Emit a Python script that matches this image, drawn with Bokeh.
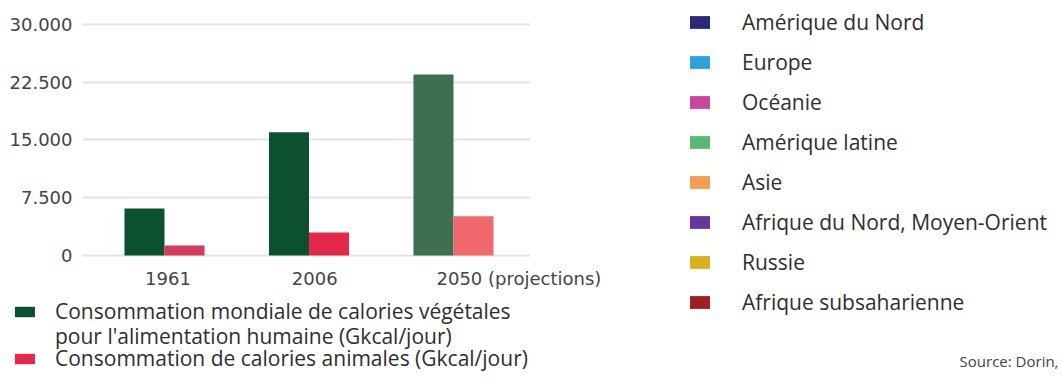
from bokeh.plotting import figure
from bokeh.layouts import row, column
from bokeh.models import (ColumnDataSource, Range1d, Legend, LegendItem,
                          Label, FixedTicker)
from bokeh.transform import dodge
from bokeh.embed import file_html
from bokeh.resources import INLINE

# ---- data ----
years = ["1961", "2006", "2050 (projections)"]
vegetal = [6100, 16000, 23500]   # Gkcal/jour
animal = [1300, 3000, 5100]      # Gkcal/jour
y_ticks = [0, 7500, 15000, 22500, 30000]
y_tick_labels = ["0", "7.500", "15.000", "22.500", "30.000"]
regions = ["Amérique du Nord", "Europe", "Océanie", "Amérique latine", "Asie",
           "Afrique du Nord, Moyen-Orient", "Russie", "Afrique subsaharienne"]
series_labels = ["Consommation mondiale de calories végétales",
                 "pour l'alimentation humaine (Gkcal/jour)",
                 "Consommation de calories animales (Gkcal/jour)"]
source_text = "Source: Dorin,"

# ---- styles ----
veg_colors = ["#0b5130", "#0b5130", "#3e6f51"]
ani_colors = ["#d8395e", "#e3284b", "#f0686c"]
region_colors = ["#2b2a78", "#2ba3d9", "#c8469c", "#5bb872", "#f0a050",
                 "#64389a", "#d8b11e", "#a11d24"]
label_shift = [0.024, 0.04, 0.453]   # centring of the category labels (style)
TEXT = "#2e2e2e"
LEGEND_FONT = "Open Sans"
AXIS_FONT = "DejaVu Sans"


def no_align(f):
    if "frame_align" in f.properties():
        f.frame_align = False
    return f


idx = list(range(len(years)))
src = ColumnDataSource(dict(idx=idx, year=years, veg=vegetal, ani=animal,
                            vc=veg_colors, ac=ani_colors))

W_MAIN, H_MAIN, H = 620, 296, 378
p = figure(width=W_MAIN, height=H_MAIN, output_backend="svg", toolbar_location=None,
           x_range=Range1d(-0.5675, 2.533), y_range=Range1d(-390, 31558),
           min_border_left=82, min_border_right=W_MAIN - 530,
           min_border_top=12, min_border_bottom=H_MAIN - 258)
p.outline_line_color = None
no_align(p)

bw = 0.277
r_veg = p.vbar(x=dodge("idx", -bw / 2), top="veg", width=bw, source=src,
               fill_color="vc", line_color=None)
r_ani = p.vbar(x=dodge("idx", bw / 2), top="ani", width=bw, source=src,
               fill_color="ac", line_color=None)

# x axis: category labels
x_ticks = [i + s for i, s in zip(idx, label_shift)]
p.xaxis.ticker = FixedTicker(ticks=x_ticks)
p.xaxis.major_label_overrides = dict(zip(x_ticks, years))
p.xaxis.axis_line_color = None
p.xaxis.major_tick_line_color = None
p.xaxis.minor_tick_line_color = None
p.xaxis.major_label_standoff = 3
p.xaxis.major_label_text_font = AXIS_FONT
p.xaxis.major_label_text_font_size = "18px"
p.xaxis.major_label_text_color = "#444444"
p.xgrid.grid_line_color = None

# y axis
p.yaxis.ticker = FixedTicker(ticks=y_ticks)
p.yaxis.major_label_overrides = dict(zip(y_ticks, y_tick_labels))
p.yaxis.axis_line_color = None
p.yaxis.major_tick_line_color = None
p.yaxis.minor_tick_line_color = None
p.yaxis.major_label_standoff = 4
p.yaxis.major_label_text_font = AXIS_FONT
p.yaxis.major_label_text_font_size = "18px"
p.yaxis.major_label_text_color = "#444444"
p.ygrid.ticker = FixedTicker(ticks=y_ticks)
p.ygrid.grid_line_color = "#e4e4e4"
p.ygrid.grid_line_width = 2


def blank_fig(w, h):
    f = figure(width=w, height=h, output_backend="svg", toolbar_location=None,
               x_range=Range1d(0, 1), y_range=Range1d(0, 1),
               x_axis_location=None, y_axis_location=None,
               min_border_left=0, min_border_right=0, min_border_top=0,
               min_border_bottom=0)
    f.outline_line_color = None
    f.grid.visible = False
    return no_align(f)


def legend_style(**kw):
    base = dict(orientation="vertical", padding=0, margin=0, glyph_width=25,
                label_text_font=LEGEND_FONT, label_text_font_size="21px",
                label_text_color=TEXT, label_text_baseline="alphabetic",
                border_line_color=None, background_fill_alpha=0)
    base.update(kw)
    return base


# bottom legend (series) -- one line per legend
H_BOT = H - H_MAIN
fb = blank_fig(W_MAIN, H_BOT)
b_veg = fb.vbar(x="idx", top=0, bottom=0, width=0.01, source=src,
                fill_color="vc", line_color=None)
b_ani = fb.vbar(x="idx", top=0, bottom=0, width=0.01, source=src,
                fill_color="ac", line_color=None)
b_blank = fb.vbar(x="idx", top=0, bottom=0, width=0.01, source=src,
                  fill_alpha=0, line_alpha=0)
bottom_items = [LegendItem(label=series_labels[0], renderers=[b_veg], index=0),
                LegendItem(label=series_labels[1], renderers=[b_blank], index=0),
                LegendItem(label=series_labels[2], renderers=[b_ani], index=1)]
for item, ybot in zip(bottom_items, [53, 28, 6]):
    fb.add_layout(Legend(items=[item], location=(12, ybot),
                         **legend_style(glyph_height=13, label_standoff=18)))

# right legend (regions)
W_RIGHT = 1062 - W_MAIN
fr = blank_fig(W_RIGHT, H)
rsrc = ColumnDataSource(dict(ri=list(range(len(regions))), name=regions, rc=region_colors))
r_reg = fr.vbar(x="ri", top=0, bottom=0, width=0.01, source=rsrc,
                fill_color="rc", line_color=None)
region_items = [LegendItem(label=n, renderers=[r_reg], index=i)
                for i, n in enumerate(regions)]
fr.add_layout(Legend(items=region_items, location=(67, 62),
                     **legend_style(spacing=12, glyph_height=16, label_standoff=30)))
fr.add_layout(Label(x=W_RIGHT - 4, y=18, x_units="screen", y_units="screen",
                    text=source_text, text_align="right", text_baseline="middle",
                    text_font=LEGEND_FONT, text_font_size="15px",
                    text_color="#444444"))

layout = row(column(p, fb, spacing=0), fr, spacing=0)
open("out.html", "w").write(file_html(layout, INLINE))
